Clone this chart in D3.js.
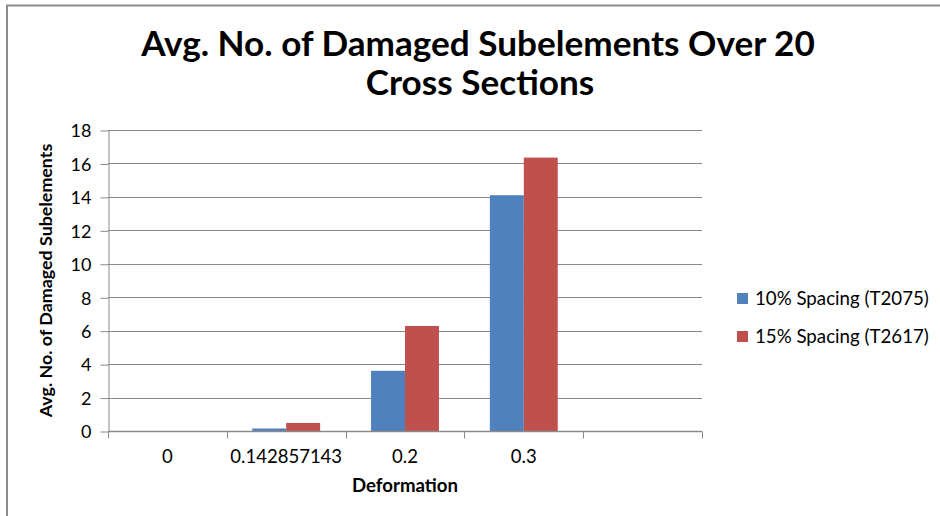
<!DOCTYPE html>
<html>
<head>
<meta charset="utf-8">
<script src="https://cdn.jsdelivr.net/npm/d3@7"></script>
<style>
  html, body { margin: 0; padding: 0; background: #fff; }
  svg { display: block; }
  text { font-family: Lato, "Open Sans", sans-serif; fill: #000; }
</style>
</head>
<body>
<svg id="chart" width="940" height="516"></svg>
<script>
// Deformation categories (the last slot is an empty category)
const categories = ["0", "0.142857143", "0.2", "0.3", ""];
const seriesNames = ["10% Spacing (T2075)", "15% Spacing (T2617)"];
const spacing10 = [0, 0.15, 3.6, 14.1, null];
const spacing15 = [0, 0.48, 6.28, 16.35, null];
const yTicks = [0, 2, 4, 6, 8, 10, 12, 14, 16, 18];
const colors = ["#4f81bd", "#c0504d"];

const svg = d3.select("#chart");
const W = 940, H = 516;
const plot = { left: 108, right: 702, top: 130, bottom: 431 };
const gridColor = "#8a8a8a";

// outer frame (top and left edges only)
svg.append("path")
  .attr("d", `M7,${H} L7,5.5 L${W},5.5`)
  .attr("fill", "none").attr("stroke", "#8c8c8c").attr("stroke-width", 2);

// helper: scale a text's font so it spans a given width
function fitWidth(sel, target) {
  const node = sel.node();
  const fs = parseFloat(sel.attr("font-size"));
  const w = node.getComputedTextLength();
  if (w > 0) sel.attr("font-size", (fs * target / w).toFixed(2));
  return parseFloat(sel.attr("font-size"));
}

// title
const t1 = svg.append("text").attr("x", 478).attr("y", 56)
  .attr("text-anchor", "middle").attr("font-weight", 700).attr("font-size", 30)
  .text("Avg. No. of Damaged Subelements Over 20");
fitWidth(t1, 674);
svg.append("text").attr("x", 480).attr("y", 95)
  .attr("text-anchor", "middle").attr("font-weight", 700)
  .attr("font-size", t1.attr("font-size"))
  .text("Cross Sections");

// scales
const x = d3.scaleBand().domain(d3.range(categories.length))
  .range([plot.left, plot.right]).paddingInner(0).paddingOuter(0);
const y = d3.scaleLinear().domain([0, 18]).range([plot.bottom, plot.top]);

// horizontal gridlines
svg.append("g").selectAll("line").data(yTicks.filter(d => d > 0)).join("line")
  .attr("x1", plot.left).attr("x2", plot.right)
  .attr("y1", d => Math.round(y(d)) + 0.5).attr("y2", d => Math.round(y(d)) + 0.5)
  .attr("stroke", gridColor).attr("stroke-width", 1);

// y axis
const yAxis = svg.append("g")
  .attr("transform", `translate(${plot.left + 0.5},0.5)`)
  .call(d3.axisLeft(y).tickValues(yTicks).tickSize(8).tickPadding(9).tickSizeOuter(0));
yAxis.select(".domain").attr("stroke", gridColor);
yAxis.selectAll(".tick line").attr("stroke", gridColor);
yAxis.selectAll(".tick text")
  .attr("font-family", "Lato, sans-serif").attr("font-size", 18).attr("fill", "#000")
  .attr("dy", "0.35em");

// bars: clustered layout with a 150% gap width
const bw = x.bandwidth() / 3.5;
const seriesData = [spacing10, spacing15];
seriesData.forEach((vals, si) => {
  svg.append("g").selectAll("rect")
    .data(vals.map((v, i) => ({ v, i })).filter(d => d.v !== null))
    .join("rect")
    .attr("x", d => x(d.i) + 0.75 * bw + si * bw)
    .attr("width", bw)
    .attr("y", d => y(d.v))
    .attr("height", d => y(0) - y(d.v))
    .attr("fill", colors[si]);
});

// x axis
const xAxisG = svg.append("g").attr("transform", `translate(0,${Math.round(y(0)) + 0.5})`);
xAxisG.append("line").attr("x1", plot.left).attr("x2", plot.right)
  .attr("stroke", gridColor).attr("stroke-width", 1.5);
const bounds = d3.range(categories.length + 1).map(i => plot.left + i * x.bandwidth());
xAxisG.selectAll("line.tk").data(bounds).join("line").attr("class", "tk")
  .attr("x1", d => Math.round(d) + 0.5).attr("x2", d => Math.round(d) + 0.5)
  .attr("y1", 0).attr("y2", 7).attr("stroke", gridColor);
const xLabels = svg.append("g").selectAll("text").data(categories).join("text")
  .attr("x", (d, i) => x(i) + x.bandwidth() / 2)
  .attr("y", 463)
  .attr("text-anchor", "middle").attr("font-size", 17)
  .text(d => d);
const xfs = fitWidth(xLabels.filter((d, i) => i === 1), 112);
xLabels.attr("font-size", xfs);

// axis titles
const xt = svg.append("text").attr("x", 405).attr("y", 492)
  .attr("text-anchor", "middle").attr("font-weight", 700).attr("font-size", 16)
  .text("Deformation");
fitWidth(xt, 106);
const yt = svg.append("text")
  .attr("transform", `translate(52,${(plot.top + plot.bottom) / 2}) rotate(-90)`)
  .attr("text-anchor", "middle").attr("font-weight", 700).attr("font-size", 15.5)
  .text("Avg. No. of Damaged Subelements");
fitWidth(yt, 274);

// legend
const legend = svg.append("g");
let lfs = null;
seriesNames.forEach((name, i) => {
  const yy = 293 + i * 38;
  legend.append("rect").attr("x", 737).attr("y", yy).attr("width", 11).attr("height", 11)
    .attr("fill", colors[i]);
  const lt = legend.append("text").attr("x", 755).attr("y", yy + 11.5)
    .attr("font-size", 17).text(name);
  if (lfs === null) lfs = fitWidth(lt, 174);
  else lt.attr("font-size", lfs);
});
</script>
</body>
</html>
